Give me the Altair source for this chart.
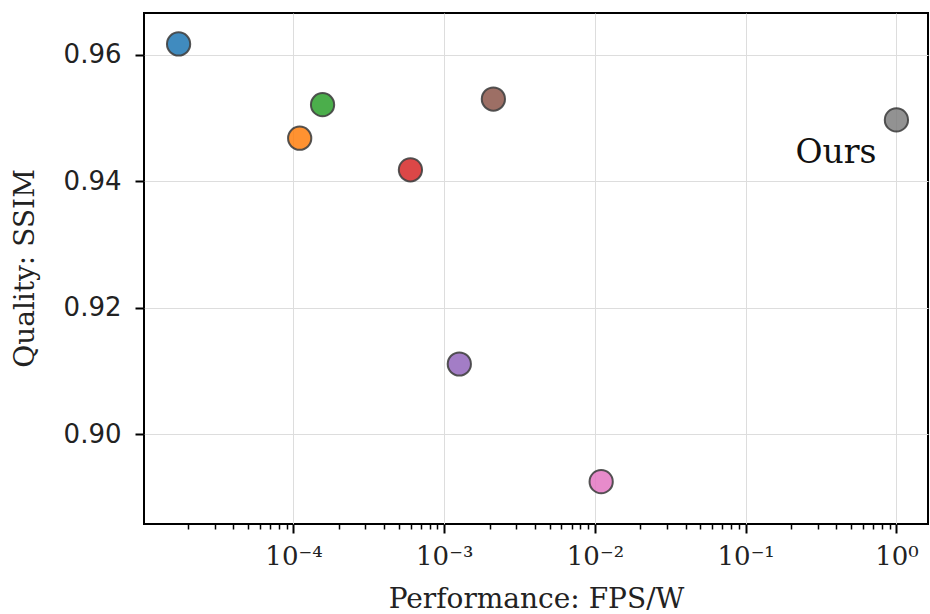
import altair as alt
import pandas as pd

# ---- data ----
method_ids = ["m1", "m2", "m3", "m4", "m5", "m6", "m7", "ours"]
fps_per_watt = [1.73e-5, 1.10e-4, 1.56e-4, 5.97e-4, 1.26e-3, 2.12e-3, 1.10e-2, 1.0]
ssim = [0.9617, 0.9468, 0.9521, 0.9418, 0.9111, 0.9530, 0.8925, 0.9497]
point_colors = ["#1f77b4", "#ff7f0e", "#2ca02c", "#d62728",
                "#9467bd", "#8c564b", "#e377c2", "#7f7f7f"]
point_labels = ["", "", "", "", "", "", "", "Ours"]

y_ticks = [0.90, 0.92, 0.94, 0.96]
x_major = [1e-4, 1e-3, 1e-2, 1e-1, 1.0]
x_minor = [m * 10.0 ** k for k in range(-5, 0) for m in range(2, 10)]
x_ticks = sorted(x_major + x_minor)
sup = {-5: "⁻⁵", -4: "⁻⁴", -3: "⁻³", -2: "⁻²", -1: "⁻¹", 0: "⁰"}

df = pd.DataFrame({"id": method_ids, "x": fps_per_watt, "y": ssim, "label": point_labels})

lg = "log(datum.value)/LN10"
is_decade = f"abs({lg} - round({lg})) < 1e-6"
label_expr = f"!({is_decade}) ? '' : " + " : ".join(
    f"round({lg}) == {k} ? '10{s}'" for k, s in sup.items()) + " : ''"

x_scale = alt.Scale(type="log", domain=[1.02e-5, 1.62], nice=False)
y_scale = alt.Scale(domain=[0.8858, 0.9666], nice=False, zero=False)

x_axis = alt.Axis(
    title="Performance: FPS/W",
    values=x_ticks,
    labelExpr=label_expr,
    labelFont="DejaVu Serif", labelFontSize=26, labelColor="#222",
    labelPadding=10, labelFlush=False, labelOverlap=False,
    tickSize={"condition": {"test": is_decade, "value": 9}, "value": 5},
    tickWidth={"condition": {"test": is_decade, "value": 2}, "value": 1.5},
    tickColor="black",
    gridOpacity={"condition": {"test": is_decade, "value": 1}, "value": 0},
    gridColor="#dddddd", gridWidth=1,
    domain=False,
    titleFont="DejaVu Serif", titleFontSize=28, titleFontWeight="normal",
    titleColor="#222", titleBaseline="alphabetic", titleY=83,
)
y_axis = alt.Axis(
    title="Quality: SSIM",
    values=y_ticks, format=".2f",
    labelFont="DejaVu Sans", labelFontSize=26, labelColor="#222",
    labelPadding=14,
    tickSize=9, tickWidth=2, tickColor="black",
    gridColor="#dddddd", gridWidth=1,
    domain=False,
    titleFont="DejaVu Serif", titleFontSize=28, titleFontWeight="normal",
    titleColor="#222", titleAngle=-90, titleBaseline="middle",
    titleAlign="center", titleX=-119, titleY=255,
)

base = alt.Chart(df)
points = base.mark_circle(size=540, opacity=0.85, stroke="#222",
                          strokeWidth=2, strokeOpacity=0.9).encode(
    x=alt.X("x:Q", scale=x_scale, axis=x_axis),
    y=alt.Y("y:Q", scale=y_scale, axis=y_axis),
    color=alt.Color("id:N", scale=alt.Scale(domain=method_ids, range=point_colors), legend=None),
)
text = base.mark_text(align="right", baseline="alphabetic", dx=-20, dy=43,
                      font="DejaVu Serif", fontSize=33, color="#111").encode(
    x=alt.X("x:Q", scale=x_scale),
    y=alt.Y("y:Q", scale=y_scale),
    text="label:N",
)

chart = (points + text).properties(
    width=784, height=511,
    autosize=alt.AutoSizeParams(type="none"),
    padding={"left": 144, "top": 13, "right": 2, "bottom": 90},
    background="white",
).configure_view(stroke="black", strokeWidth=2)

chart.save("out.html", embed_options={"renderer": "svg", "actions": False})
